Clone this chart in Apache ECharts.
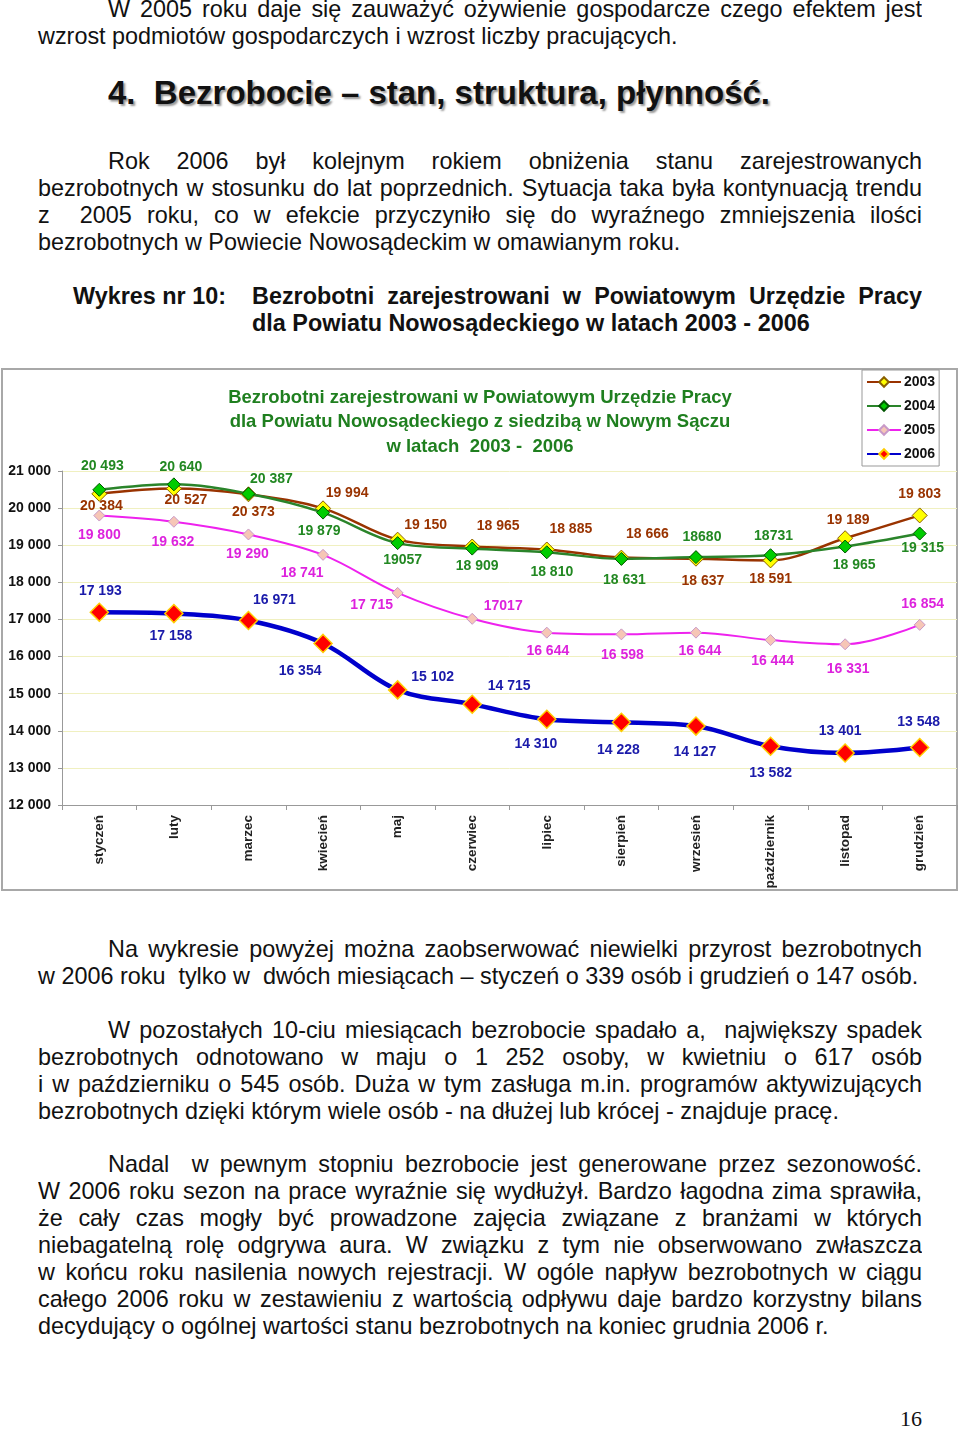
<!DOCTYPE html>
<html>
<head>
<meta charset="utf-8">
<script src="https://cdn.jsdelivr.net/npm/echarts@6/dist/echarts.min.js"></script>
<style>
  html, body { margin: 0; padding: 0; background: #fff; }
  #page { position: relative; width: 960px; height: 1429px; overflow: hidden; font-family: Arial, "Liberation Sans", sans-serif; color: #111; }
  .blk { position: absolute; left: 38px; width: 884px; font-size: 23.4px; line-height: 27px; }
  .ln { white-space: nowrap; text-align: left; height: 27px; }
  .j { white-space: normal; text-align: justify; text-align-last: justify; height: 27px; overflow: hidden; }
  .ind { padding-left: 70px; }
  #heading { position: absolute; left: 108px; top: 74px; font-size: 33px; font-weight: bold; line-height: 38px; text-shadow: 2px 2px 2px #999; white-space: nowrap; }
  #wyk { position: absolute; left: 73px; top: 283px; font-size: 23.4px; font-weight: bold; line-height: 27px; }
  #wykt { position: absolute; left: 252px; width: 670px; top: 283px; font-size: 23.4px; font-weight: bold; line-height: 27px; }
  #pnum { position: absolute; left: 900px; top: 1406px; font-family: "Liberation Serif", "DejaVu Serif", serif; font-size: 22px; }
  #chart { position: absolute; left: 0; top: 360px; width: 960px; height: 540px; }
</style>
</head>
<body>
<div id="page">
  <div class="blk" style="top:-4px">
    <div class="j ind">W 2005 roku daje się zauważyć ożywienie gospodarcze czego efektem jest</div>
    <div class="ln">wzrost podmiotów gospodarczych i wzrost liczby pracujących.</div>
  </div>
  <div id="heading">4.&nbsp; Bezrobocie – stan, struktura, płynność.</div>
  <div class="blk" style="top:148px">
    <div class="j ind">Rok 2006 był kolejnym rokiem obniżenia stanu zarejestrowanych</div>
    <div class="j">bezrobotnych w stosunku do lat poprzednich. Sytuacja taka była kontynuacją trendu</div>
    <div class="j">z &nbsp;2005 roku, co w efekcie przyczyniło się do wyraźnego zmniejszenia ilości</div>
    <div class="ln">bezrobotnych w Powiecie Nowosądeckim w omawianym roku.</div>
  </div>
  <div id="wyk">Wykres nr 10:</div>
  <div id="wykt">
    <div class="j">Bezrobotni zarejestrowani w Powiatowym Urzędzie Pracy</div>
    <div class="ln">dla Powiatu Nowosądeckiego w latach 2003 - 2006</div>
  </div>
  <div id="chart"></div>
  <div class="blk" style="top:936px">
    <div class="j ind">Na wykresie powyżej można zaobserwować niewielki przyrost bezrobotnych</div>
    <div class="ln">w 2006 roku &nbsp;tylko w &nbsp;dwóch miesiącach – styczeń o 339 osób i grudzień o 147 osób.</div>
  </div>
  <div class="blk" style="top:1017px">
    <div class="j ind">W pozostałych 10-ciu miesiącach bezrobocie spadało a, &nbsp;największy spadek</div>
    <div class="j">bezrobotnych odnotowano w maju o 1 252 osoby, w kwietniu o 617 osób</div>
    <div class="j">i w październiku o 545 osób. Duża w tym zasługa m.in. programów aktywizujących</div>
    <div class="ln">bezrobotnych dzięki którym wiele osób - na dłużej lub krócej - znajduje pracę.</div>
  </div>
  <div class="blk" style="top:1151px">
    <div class="j ind">Nadal &nbsp;w pewnym stopniu bezrobocie jest generowane przez sezonowość.</div>
    <div class="j">W 2006 roku sezon na prace wyraźnie się wydłużył. Bardzo łagodna zima sprawiła,</div>
    <div class="j">że cały czas mogły być prowadzone zajęcia związane z branżami w których</div>
    <div class="j">niebagatelną rolę odgrywa aura. W związku z tym nie obserwowano zwłaszcza</div>
    <div class="j">w końcu roku nasilenia nowych rejestracji. W ogóle napływ bezrobotnych w ciągu</div>
    <div class="j">całego 2006 roku w zestawieniu z wartością odpływu daje bardzo korzystny bilans</div>
    <div class="ln">decydujący o ogólnej wartości stanu bezrobotnych na koniec grudnia 2006 r.</div>
  </div>
  <div id="pnum">16</div>
</div>
<script>
// ---- data ----
const months = ['styczeń','luty','marzec','kwiecień','maj','czerwiec','lipiec','sierpień','wrzesień','październik','listopad','grudzień'];
const years = ['2003','2004','2005','2006'];
const v2003 = [20384, 20527, 20373, 19994, 19150, 18965, 18885, 18666, 18637, 18591, 19189, 19803];
const v2004 = [20493, 20640, 20387, 19879, 19057, 18909, 18810, 18631, 18680, 18731, 18965, 19315];
const v2005 = [19800, 19632, 19290, 18741, 17715, 17017, 16644, 16598, 16644, 16444, 16331, 16854];
const v2006 = [17193, 17158, 16971, 16354, 15102, 14715, 14310, 14228, 14127, 13582, 13401, 13548];
const yMin = 12000, yMax = 21000, yStep = 1000;
const titleLines = [
  'Bezrobotni zarejestrowani w Powiatowym Urzędzie Pracy',
  'dla Powiatu Nowosądeckiego z siedzibą w Nowym Sączu',
  'w latach  2003 -  2006'
];
// labels printed without thousands space in the original (indices)
const plain2004 = [4, 8, 9];
const plain2005 = [5];

// ---- label placement (style, offsets in px relative to the point) ----
const off2003 = [[2,12],[12,12],[5,18],[24,-15],[28,-15],[26,-20],[24,-20],[26,-23],[7,22],[0,19],[3,-18],[0,-21]];
const off2004 = [[3,-24],[7,-17],[23,-15],[-4,19],[5,17],[5,18],[5,20],[3,21],[6,-20],[3,-19],[9,19],[3,15]];
const off2005 = [[0,20],[-1,20],[-1,20],[-21,18],[-26,12],[31,-13],[1,18],[1,21],[4,18],[2,21],[3,25],[3,-21]];
const off2006 = [[1,-21],[-3,23],[26,-20],[-23,28],[35,-13],[37,-18],[-11,25],[-3,28],[-1,26],[0,27],[-5,-22],[-1,-25]];

const FONT = 'Arial, "Liberation Sans", sans-serif';
function fmt(v) { return String(v).replace(/\B(?=(\d{3})+(?!\d))/g, ' '); }
function build(values, offs, plain) {
  return values.map((v, i) => ({
    value: v,
    label: { offset: offs[i], formatter: (plain || []).indexOf(i) >= 0 ? String(v) : fmt(v) }
  }));
}
function series(name, values, offs, plain, lineColor, lineWidth, symFill, symBorder, symBorderW, symSize, labelColor, z) {
  return {
    name: name, type: 'line', smooth: 0.35, z: z,
    data: build(values, offs, plain),
    symbol: 'diamond', symbolSize: symSize,
    lineStyle: { color: lineColor, width: lineWidth },
    itemStyle: { color: symFill, borderColor: symBorder, borderWidth: symBorderW },
    color: lineColor,
    label: { show: true, position: 'inside', color: labelColor, fontFamily: FONT, fontWeight: 'bold', fontSize: 14 },
    emphasis: { disabled: true },
    animation: false
  };
}

const chart = echarts.init(document.getElementById('chart'), null, { renderer: 'canvas' });
chart.setOption({
  animation: false,
  backgroundColor: 'transparent',
  title: titleLines.map((t, i) => ({
    text: t, left: 'center', top: 28 + i * 24.5, padding: 0,
    textStyle: { fontFamily: FONT, fontSize: 18.5, fontWeight: 'bold', color: '#1f7f1f' }
  })),
  legend: {
    data: years, orient: 'vertical', left: 862, top: 10,
    itemWidth: 34, itemHeight: 12, itemGap: 10,
    padding: [5, 4, 5, 4],
    backgroundColor: '#fff', borderColor: '#999', borderWidth: 1,
    textStyle: { fontFamily: FONT, fontSize: 14, fontWeight: 'bold', color: '#111', padding: [0, 0, 0, -2] }
  },
  graphic: [{
    type: 'rect', silent: true, z: -10,
    shape: { x: 2, y: 9, width: 955, height: 521 },
    style: { fill: '#fff', stroke: '#a8a8a8', lineWidth: 2 }
  }],
  grid: { left: 62, top: 111, width: 895, height: 334 },
  xAxis: {
    type: 'category', data: months, boundaryGap: true,
    axisLine: { lineStyle: { color: '#999', width: 1 } },
    axisTick: { show: true, length: 5, lineStyle: { color: '#999' } },
    axisLabel: { interval: 0, rotate: 90, margin: 10, fontFamily: FONT, fontSize: 13.5, fontWeight: 'bold', color: '#222' },
    splitLine: { show: false }
  },
  yAxis: {
    type: 'value', min: yMin, max: yMax, interval: yStep,
    axisLine: { show: true, lineStyle: { color: '#999', width: 1 } },
    axisTick: { show: true, length: 4, lineStyle: { color: '#999' } },
    axisLabel: { margin: 11, fontFamily: FONT, fontSize: 14, fontWeight: 'bold', color: '#111', formatter: fmt },
    splitLine: { show: true, lineStyle: { color: '#f0f0c0', width: 1 } }
  },
  series: [
    series('2003', v2003, off2003, null, '#993300', 2.5, '#ffff00', '#8a6000', 1, 15, '#993300', 3),
    series('2004', v2004, off2004, plain2004, '#2a842a', 2.5, '#00cc00', '#005500', 1, 13, '#228822', 4),
    series('2005', v2005, off2005, plain2005, '#ee22ee', 2, '#f6c6b6', '#c899c8', 1, 11, '#dd22dd', 2),
    series('2006', v2006, off2006, null, '#0000cc', 4.5, '#ff0000', '#ffcc00', 1.5, 18, '#1a1aaa', 5)
  ]
});
</script>
</body>
</html>
